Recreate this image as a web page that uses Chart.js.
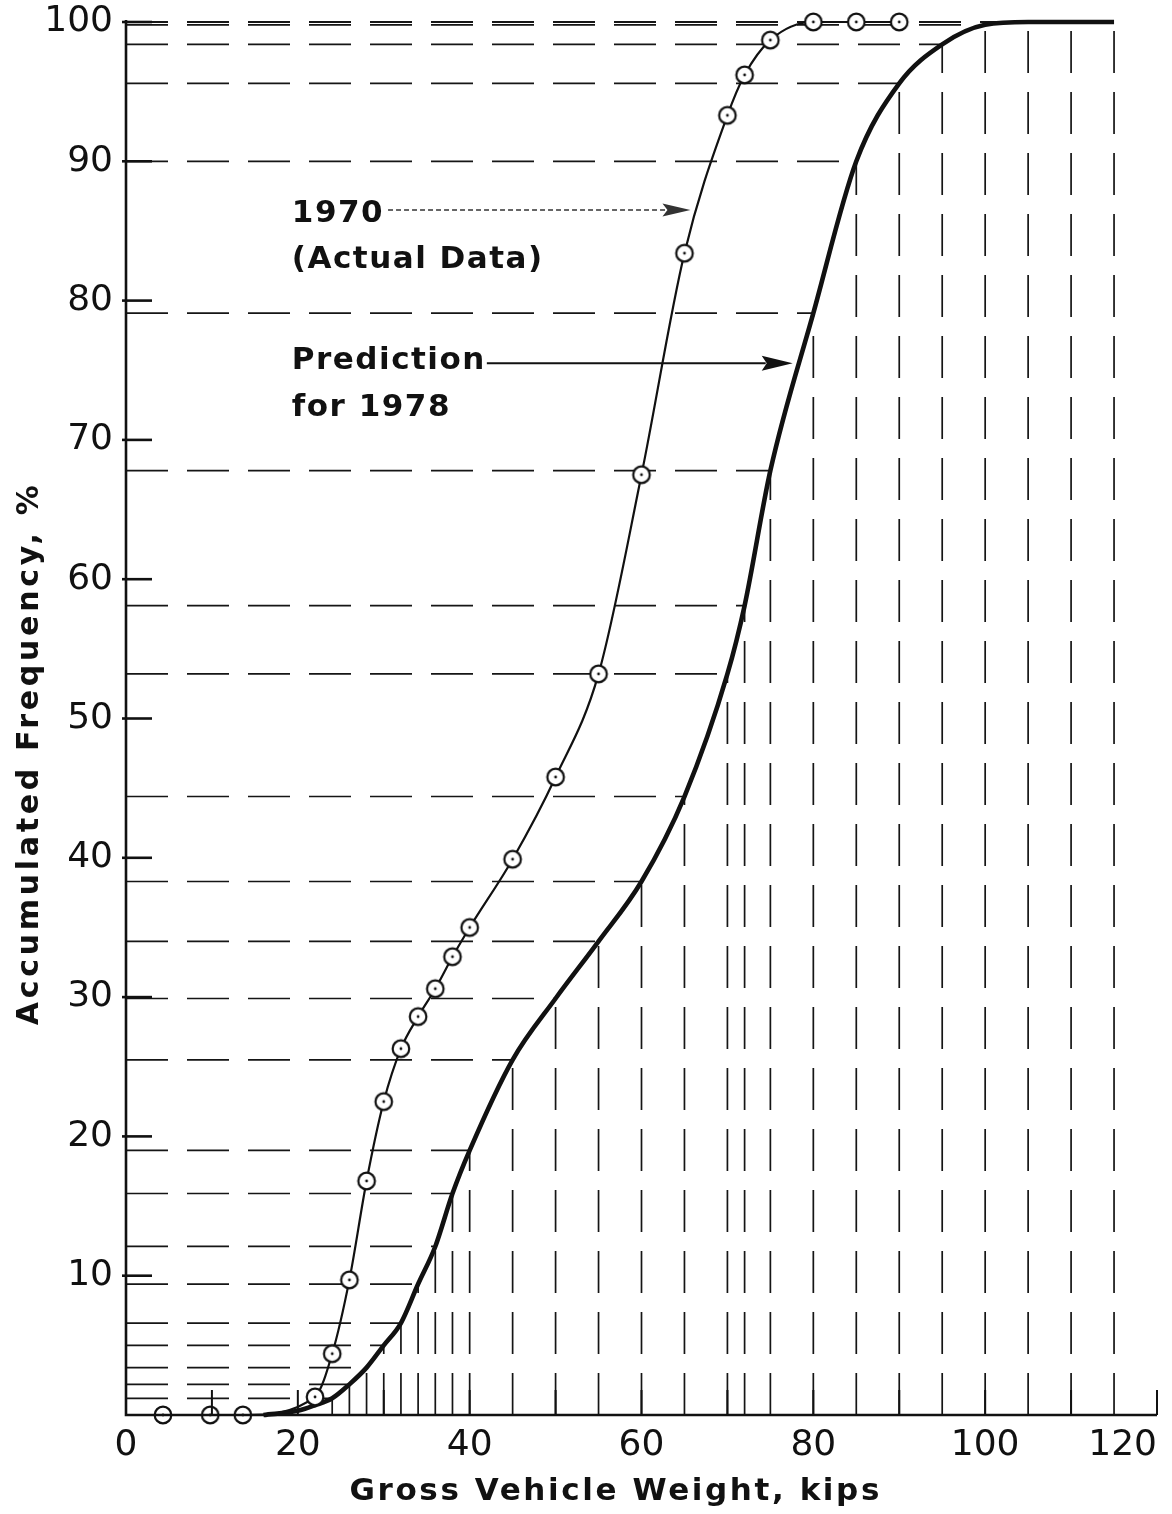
<!DOCTYPE html>
<html>
<head>
<meta charset="utf-8">
<script src="https://cdn.jsdelivr.net/npm/chart.js@4.4.1/dist/chart.umd.min.js"></script>
<style>
  html, body { margin: 0; padding: 0; background: #fff; }
  #wrap { width: 1172px; height: 1514px; position: relative; }
</style>
</head>
<body>
<div id="wrap"><canvas id="chart"></canvas></div>
<script>
// 1970 weigh-station survey: accumulated frequency (%) by gross vehicle weight (kips)
const weights1970 = [4.3, 9.8, 13.6, 22, 24, 26, 28, 30, 32, 34, 36, 38, 40, 45, 50, 55, 60, 65, 70, 72, 75, 80, 85, 90];
const freq1970    = [0, 0, 0, 1.3, 4.4, 9.7, 16.8, 22.5, 26.3, 28.6, 30.6, 32.9, 35.0, 39.9, 45.8, 53.2, 67.5, 83.4, 93.3, 96.2, 98.7, 100, 100, 100];

// Predicted 1978 distribution
const weights1978 = [16, 20, 22, 24, 26, 28, 30, 32, 34, 36, 38, 40, 45, 50, 55, 60, 65, 70, 72, 75, 80, 85, 90, 95, 100, 105, 110, 115];
const freq1978    = [0, 0.3, 0.7, 1.2, 2.2, 3.4, 5.0, 6.6, 9.4, 12.1, 15.9, 19.0, 25.5, 29.9, 34.0, 38.3, 44.4, 53.2, 58.1, 67.8, 79.1, 90.0, 95.6, 98.4, 99.8, 100, 100, 100];

// Weights at which the predicted curve is projected back onto both axes
const readoutWeights = [24, 26, 28, 30, 32, 34, 36, 38, 40, 45, 50, 55, 60, 65, 70, 72, 75, 80, 85, 90, 95, 100, 105, 110, 115];

// Axis ticks
const xTickLabels = [0, 20, 40, 60, 80, 100, 120];
const xTickMarks  = [10, 20, 30, 40, 50, 60, 70, 80, 90, 100, 110, 120];
const yTickValues = [10, 20, 30, 40, 50, 60, 70, 80, 90, 100];

const INK = '#111';
const LABEL_FONT = '"DejaVu Sans", "Liberation Sans", sans-serif';

// Open circle with a centre dot, used for the observed points
function ringDotMarker() {
  const c = document.createElement('canvas');
  c.width = 24; c.height = 24;
  const g = c.getContext('2d');
  g.beginPath(); g.arc(12, 12, 8.3, 0, Math.PI * 2);
  g.fillStyle = '#fff'; g.fill();
  g.lineWidth = 2.2; g.strokeStyle = INK; g.stroke();
  g.beginPath(); g.arc(12, 12, 1.4, 0, Math.PI * 2);
  g.fillStyle = INK; g.fill();
  return c;
}

// Dashed projections of the predicted curve to the x and y axes
const readoutGuides = {
  id: 'readoutGuides',
  beforeDatasetsDraw(chart) {
    const { ctx, scales: { x, y } } = chart;
    const x0 = x.getPixelForValue(0), y0 = y.getPixelForValue(0);
    ctx.save();
    ctx.strokeStyle = '#151515';
    ctx.lineWidth = 1.7;
    ctx.setLineDash([42, 19]);
    weights1978.forEach((w, i) => {
      if (!readoutWeights.includes(w)) return;
      const px = x.getPixelForValue(w), py = y.getPixelForValue(freq1978[i]);
      ctx.beginPath(); ctx.moveTo(x0, py); ctx.lineTo(px, py); ctx.stroke();
      ctx.beginPath(); ctx.moveTo(px, y0); ctx.lineTo(px, py); ctx.stroke();
    });
    ctx.restore();
  }
};

// Axis lines with inward tick marks
const frameAxes = {
  id: 'frameAxes',
  afterDatasetsDraw(chart) {
    const { ctx, scales: { x, y } } = chart;
    const x0 = x.getPixelForValue(0), y0 = y.getPixelForValue(0);
    ctx.save();
    ctx.strokeStyle = INK;
    ctx.lineCap = 'butt';
    ctx.lineWidth = 2.6;
    ctx.beginPath();
    ctx.moveTo(x0, y.getPixelForValue(100) - 2);
    ctx.lineTo(x0, y0);
    ctx.lineTo(x.getPixelForValue(120), y0);
    ctx.stroke();
    yTickValues.forEach(v => {
      const py = y.getPixelForValue(v);
      ctx.beginPath(); ctx.moveTo(x0 - 4, py); ctx.lineTo(x0 + 26, py); ctx.stroke();
    });
    ctx.lineWidth = 2;
    xTickMarks.forEach(v => {
      const px = x.getPixelForValue(v);
      ctx.beginPath(); ctx.moveTo(px, y0); ctx.lineTo(px, y0 - 25); ctx.stroke();
    });
    ctx.restore();
  }
};

function spacedText(ctx, text, px, py, spacing) {
  if ('letterSpacing' in ctx) {
    ctx.letterSpacing = spacing + 'px';
    ctx.fillText(text, px, py);
    ctx.letterSpacing = '0px';
  } else {
    ctx.fillText(text, px, py);
  }
}

function arrow(ctx, x1, y1, x2, y2, headLen, headHalf, dash, width, color) {
  const ang = Math.atan2(y2 - y1, x2 - x1);
  const bx = x2 - headLen * Math.cos(ang), by = y2 - headLen * Math.sin(ang);
  ctx.save();
  ctx.strokeStyle = color; ctx.fillStyle = color; ctx.lineWidth = width;
  ctx.setLineDash(dash);
  ctx.beginPath(); ctx.moveTo(x1, y1); ctx.lineTo(bx + 4 * Math.cos(ang), by + 4 * Math.sin(ang)); ctx.stroke();
  ctx.setLineDash([]);
  ctx.beginPath();
  ctx.moveTo(x2, y2);
  ctx.lineTo(bx - headHalf * Math.sin(ang), by + headHalf * Math.cos(ang));
  ctx.lineTo(bx + 5 * Math.cos(ang), by + 5 * Math.sin(ang));
  ctx.lineTo(bx + headHalf * Math.sin(ang), by - headHalf * Math.cos(ang));
  ctx.closePath(); ctx.fill();
  ctx.restore();
}

// Tick numbers on x, axis titles and the curve call-outs
const labelsAndNotes = {
  id: 'labelsAndNotes',
  afterDraw(chart) {
    const { ctx, scales: { x, y }, chartArea } = chart;
    ctx.save();
    ctx.fillStyle = INK;

    // x tick numbers
    ctx.font = '36px ' + LABEL_FONT;
    ctx.textBaseline = 'middle';
    xTickLabels.forEach((v, i) => {
      ctx.textAlign = i === xTickLabels.length - 1 ? 'right' : 'center';
      ctx.fillText(String(v), x.getPixelForValue(v), chartArea.bottom + 31);
    });

    // x title
    ctx.font = 'bold 31px ' + LABEL_FONT;
    ctx.textAlign = 'center';
    ctx.textBaseline = 'alphabetic';
    spacedText(ctx, 'Gross Vehicle Weight, kips', x.getPixelForValue(57), chartArea.bottom + 85, 2.6);

    // y title
    ctx.save();
    ctx.translate(38, y.getPixelForValue(47.5));
    ctx.rotate(-Math.PI / 2);
    ctx.font = 'bold 30px ' + LABEL_FONT;
    ctx.textAlign = 'center';
    ctx.textBaseline = 'alphabetic';
    spacedText(ctx, 'Accumulated Frequency, %', 0, 0, 3.7);
    ctx.restore();

    // call-outs
    ctx.font = 'bold 31px ' + LABEL_FONT;
    ctx.textAlign = 'left';
    ctx.textBaseline = 'middle';
    const tx = x.getPixelForValue(19.3);
    spacedText(ctx, '1970', tx, y.getPixelForValue(86.2), 1.5);
    spacedText(ctx, '(Actual Data)', tx, y.getPixelForValue(82.9), 1.5);
    spacedText(ctx, 'Prediction', tx, y.getPixelForValue(75.7), 1.5);
    spacedText(ctx, 'for 1978', tx, y.getPixelForValue(72.3), 1.5);

    arrow(ctx, x.getPixelForValue(30.5), y.getPixelForValue(86.5),
               x.getPixelForValue(65.7), y.getPixelForValue(86.5), 28, 6.5, [5, 3], 1.4, '#333');
    arrow(ctx, x.getPixelForValue(42.0), y.getPixelForValue(75.5),
               x.getPixelForValue(77.6), y.getPixelForValue(75.5), 31, 7.5, [], 2, INK);
    ctx.restore();
  }
};

const toPoints = (xs, ys) => xs.map((v, i) => ({ x: v, y: ys[i] }));

new Chart(document.getElementById('chart'), {
  type: 'line',
  data: {
    datasets: [
      {
        label: 'Prediction for 1978',
        data: toPoints(weights1978, freq1978),
        borderColor: INK,
        borderWidth: 4.6,
        pointRadius: 0,
        cubicInterpolationMode: 'monotone',
        clip: false,
        order: 2
      },
      {
        label: '1970 (Actual Data)',
        data: toPoints(weights1970, freq1970),
        borderColor: INK,
        borderWidth: 2.2,
        pointStyle: ringDotMarker(),
        pointRadius: 9,
        cubicInterpolationMode: 'monotone',
        clip: false,
        order: 1
      }
    ]
  },
  options: {
    responsive: true,
    maintainAspectRatio: false,
    animation: false,
    events: [],
    layout: { padding: { top: 22, right: 15, bottom: 0, left: 0 } },
    plugins: { legend: { display: false }, tooltip: { enabled: false } },
    scales: {
      x: {
        type: 'linear', min: 0, max: 120,
        grid: { display: false }, border: { display: false },
        ticks: { display: false },
        afterFit(s) { s.height = 99; s.paddingLeft = 0; s.paddingRight = 0; }
      },
      y: {
        type: 'linear', min: 0, max: 100,
        grid: { display: false, drawTicks: false }, border: { display: false },
        ticks: {
          stepSize: 10,
          padding: 13,
          color: INK,
          font: { family: LABEL_FONT, size: 36 },
          callback: v => (yTickValues.includes(v) ? String(v) : '')
        },
        afterFit(s) { s.width = 126; s.paddingTop = 0; s.paddingBottom = 0; }
      }
    }
  },
  plugins: [readoutGuides, frameAxes, labelsAndNotes]
});
</script>
</body>
</html>
